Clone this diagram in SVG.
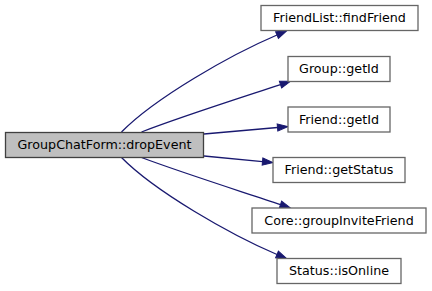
<svg xmlns="http://www.w3.org/2000/svg" width="432" height="291" viewBox="0 0 432 291">
  <style>
    .node rect { fill: #ffffff; stroke: #666666; stroke-width: 1.3; }
    #main rect { fill: #bfbfbf; stroke: #404040; }
    .node text { font-family: "DejaVu Sans", sans-serif; font-size: 12.7px; fill: #000000; text-anchor: middle; }
    .edge { fill: none; stroke: #191970; stroke-width: 1.3; marker-end: url(#arrow); }
  </style>
  <defs>
    <marker id="arrow" markerUnits="userSpaceOnUse" markerWidth="12" markerHeight="10" refX="0" refY="3.6" orient="auto" overflow="visible">
      <path d="M0,0 L10.5,3.6 L0,7.2 Z" fill="#191970" stroke="#191970" stroke-width="1"/>
    </marker>
  </defs>

  <rect width="432" height="291" fill="#ffffff"/>

  <g id="edges">
    <path class="edge" d="M121.5,132 C155,98 230,55 277,35"/>
    <path class="edge" d="M141.5,132 C180,117 240,98 280.5,84.6"/>
    <path class="edge" d="M204,134 C230,131.5 255,129.5 277.5,127.5"/>
    <path class="edge" d="M204,156 C225,158 245,160 262.5,161.6"/>
    <path class="edge" d="M141.5,157.5 C180,172 240,191 280.5,204.6"/>
    <path class="edge" d="M121.5,157.5 C155,191.5 230,234.5 277,254.5"/>
  </g>

  <g id="main" class="node">
    <rect x="5.5" y="132.5" width="198" height="25"/>
    <text x="104.5" y="149.3">GroupChatForm::dropEvent</text>
  </g>
  <g id="findFriend" class="node">
    <rect x="261" y="5.5" width="157" height="25"/>
    <text x="339.5" y="22.3">FriendList::findFriend</text>
  </g>
  <g id="groupGetId" class="node">
    <rect x="288" y="56.5" width="102" height="25"/>
    <text x="339" y="73.3">Group::getId</text>
  </g>
  <g id="friendGetId" class="node">
    <rect x="288" y="107" width="102" height="25"/>
    <text x="339" y="123.8">Friend::getId</text>
  </g>
  <g id="getStatus" class="node">
    <rect x="273" y="157.5" width="132" height="25"/>
    <text x="339" y="174.3">Friend::getStatus</text>
  </g>
  <g id="groupInviteFriend" class="node">
    <rect x="252" y="208" width="174" height="25"/>
    <text x="339" y="224.8">Core::groupInviteFriend</text>
  </g>
  <g id="isOnline" class="node">
    <rect x="277" y="258.5" width="124" height="25"/>
    <text x="339" y="275.3">Status::isOnline</text>
  </g>
</svg>
